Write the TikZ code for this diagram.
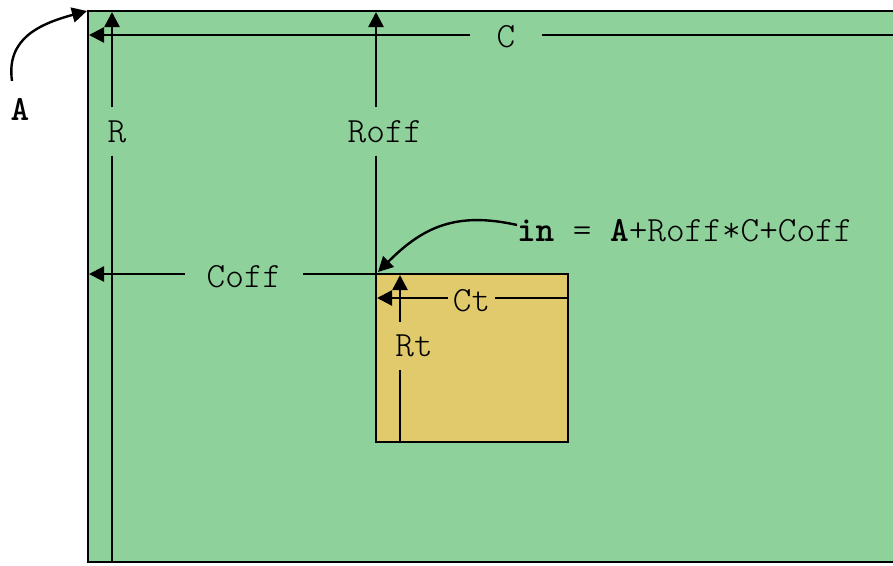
\documentclass[tikz,border=0pt]{standalone}
\usepackage{tikz}
\usetikzlibrary{arrows.meta}
\definecolor{matg}{HTML}{8FD19B}
\definecolor{tilec}{HTML}{E1CA6C}
\newcommand{\lblfont}{\fontsize{35.5}{40}\selectfont\ttfamily\fontseries{l}\selectfont}
\tikzset{
  >={Triangle[length=15pt,width=15pt]},
  edge/.style={line width=2.4pt},
  arr/.style={edge,->},
  lbl/.style={font=\lblfont,inner xsep=0pt,inner ysep=13pt,outer sep=0pt},
  hlbl/.style={lbl,inner ysep=0pt,inner xsep=22pt},
}
\begin{document}
\begin{tikzpicture}[x=1pt,y=-1pt]
\useasboundingbox (0,0) rectangle (893,565);
% matrix and tile
\fill[matg] (88,11) rectangle (893,562);
\draw[edge] (893,11) -- (88,11) -- (88,562) -- (893,562);
\draw[edge,fill=tilec] (376,274) rectangle (568,442);
\coordinate (org) at (87,11);
\coordinate (bot) at (88,562);
\coordinate (rgt) at (893,35);
\coordinate (tl) at (376,274);
\coordinate (tr) at (568,274);
\coordinate (tbr) at (568,442);
\coordinate (Rx) at (112,12);
\coordinate (Roffx) at (376,12);
\coordinate (Cx) at (89,35);
\coordinate (Coffx) at (89,274);
\coordinate (Ctx) at (377,298);
\coordinate (Rtx) at (400,275);

\node[lbl] (R) at (117,131.5) {R};
\node[lbl] (Roff) at (385,131.5) {Roff};
\node[hlbl,inner xsep=27pt] (C) at (506,37) {C};
\node[hlbl] (Coff) at (244,277) {Coff};
\node[hlbl,inner xsep=5pt] (Ct) at (471.5,301) {Ct};
\node[lbl] (Rt) at (414,346) {Rt};
\node[lbl,inner sep=0pt,anchor=west] (in) at (517,231) {\textbf{in} = \textbf{A}+Roff*C+Coff};
\node[lbl,inner sep=0pt,font=\lblfont\bfseries] (Alab) at (20,109) {A};

\draw[arr] (R.north -| Rx) -- (Rx);
\draw[edge] (R.south -| Rx) -- (Rx |- bot);
\draw[arr] (Roff.north -| Roffx) -- (Roffx);
\draw[edge] (Roff.south -| Roffx) -- (tl);
\draw[arr] (C.west |- Cx) -- (Cx);
\draw[edge] (C.east |- Cx) -- (rgt);
\draw[arr] (Coff.west |- tl) -- (Coffx);
\draw[edge] (Coff.east |- tl) -- (tl);
\draw[arr] (Ct.west |- Ctx) -- (Ctx);
\draw[edge] (Ct.east |- Ctx) -- (Ctx -| tr);
\draw[arr] (Rt.north -| Rtx) -- (Rtx);
\draw[edge] (Rt.south -| Rtx) -- (Rtx |- tbr);
\draw[arr] ([shift={(-8pt,17pt)}]Alab.north) .. controls +(-6,-42) and +(-48,13) .. (org);
\draw[arr] ([yshift=6pt]in.west) .. controls +(-62,-14) and +(44,-44) .. ([shift={(2pt,2pt)}]tl);
\end{tikzpicture}
\end{document}
